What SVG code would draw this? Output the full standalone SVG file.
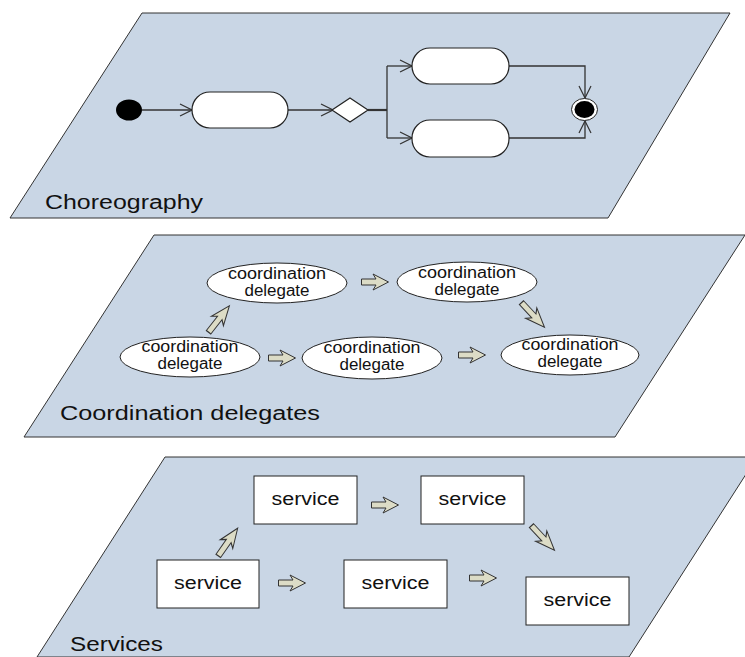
<svg xmlns="http://www.w3.org/2000/svg" width="745" height="657" viewBox="0 0 745 657">
<defs>
<style>
.plane{fill:#c9d6e5;stroke:#333;stroke-width:1}
.act{fill:#fff;stroke:#222;stroke-width:1.2}
.ell{fill:#fff;stroke:#222;stroke-width:1}
.box{fill:#fff;stroke:#222;stroke-width:1}
.ln{fill:none;stroke:#333;stroke-width:1.3}
.lbl{font-family:"Liberation Sans",Arial,sans-serif;font-size:20px;fill:#111}
.t{font-family:"Liberation Sans",Arial,sans-serif;font-size:16px;fill:#111;text-anchor:middle}
.ts{font-family:"Liberation Sans",Arial,sans-serif;font-size:18px;fill:#111;text-anchor:middle}
.ba{fill:#dcdcc6;stroke:#333;stroke-width:1}
</style>
<marker id="open" viewBox="0 0 14 14" refX="13" refY="7" markerWidth="14" markerHeight="14" markerUnits="userSpaceOnUse" orient="auto">
<path d="M1,1 L13,7 L1,13" fill="none" stroke="#333" stroke-width="1.2"/>
</marker>
<path id="barrow" d="M-13.5,-3 L1,-3 L-2,-8 L13.5,0 L-2,8 L1,3 L-13.5,3 Z"/>
</defs>

<g id="plane-choreography">
<polygon class="plane" points="142,13 730,13 608,218 10,218"/>
<text class="lbl" x="45" y="209" textLength="158" lengthAdjust="spacingAndGlyphs">Choreography</text>
</g>
<g id="plane-coordination">
<polygon class="plane" points="154,235 745,235 615,437 24,437"/>
<text class="lbl" x="60" y="420" textLength="260" lengthAdjust="spacingAndGlyphs">Coordination delegates</text>
</g>
<g id="plane-services">
<polygon class="plane" points="165,457 757,457 629,657 37,657"/>
<text class="lbl" x="70" y="651" textLength="93" lengthAdjust="spacingAndGlyphs">Services</text>
</g>

<g id="connectors">
<line class="ln" x1="142" y1="110" x2="192" y2="110" marker-end="url(#open)"/>
<line class="ln" x1="288" y1="110" x2="333" y2="110" marker-end="url(#open)"/>
<line class="ln" x1="368" y1="110" x2="387" y2="110" style="stroke-width:2.2"/>
<line class="ln" x1="387" y1="66" x2="387" y2="138"/>
<line class="ln" x1="387" y1="66" x2="412" y2="66" marker-end="url(#open)"/>
<line class="ln" x1="387" y1="138" x2="412" y2="138" marker-end="url(#open)"/>
<polyline class="ln" points="509,66 585,66 585,98" marker-end="url(#open)"/>
<polyline class="ln" points="509,138 585,138 585,121" marker-end="url(#open)"/>

<use href="#barrow" class="ba" transform="translate(375,282)"/>
<use href="#barrow" class="ba" transform="translate(282,358)"/>
<use href="#barrow" class="ba" transform="translate(472,355)"/>
<use href="#barrow" class="ba" transform="translate(219,319) rotate(-52) scale(1.25,0.95)"/>
<use href="#barrow" class="ba" transform="translate(533,315) rotate(47) scale(1.25,0.95)"/>

<use href="#barrow" class="ba" transform="translate(385,505)"/>
<use href="#barrow" class="ba" transform="translate(292,583)"/>
<use href="#barrow" class="ba" transform="translate(483,578)"/>
<use href="#barrow" class="ba" transform="translate(228,542) rotate(-55) scale(1.25,0.95)"/>
<use href="#barrow" class="ba" transform="translate(543,538) rotate(47) scale(1.25,0.95)"/>
</g>

<g id="initial"><ellipse cx="129" cy="110" rx="13" ry="10.5" fill="#000"/></g>
<g id="action1"><rect class="act" x="192" y="92" width="96" height="36" rx="18" ry="18"/></g>
<g id="decision"><polygon points="350,98 368,110 350,122 332,110" fill="#fff" stroke="#222" stroke-width="1.2"/></g>
<g id="action2"><rect class="act" x="412" y="48" width="97" height="36" rx="18" ry="18"/></g>
<g id="action3"><rect class="act" x="412" y="120" width="97" height="37" rx="18" ry="18"/></g>
<g id="final">
<ellipse cx="584.5" cy="109.5" rx="13" ry="11" fill="#fff" stroke="#222" stroke-width="1"/>
<ellipse cx="584.5" cy="109.5" rx="10" ry="8.5" fill="#000"/>
</g>

<g id="cd1"><ellipse class="ell" cx="277" cy="283" rx="70" ry="20"/>
<text class="t" x="277" y="279" textLength="98" lengthAdjust="spacingAndGlyphs">coordination</text>
<text class="t" x="277" y="296" textLength="65" lengthAdjust="spacingAndGlyphs">delegate</text></g>
<g id="cd2"><ellipse class="ell" cx="467" cy="282" rx="70" ry="20"/>
<text class="t" x="467" y="278" textLength="98" lengthAdjust="spacingAndGlyphs">coordination</text>
<text class="t" x="467" y="295" textLength="65" lengthAdjust="spacingAndGlyphs">delegate</text></g>
<g id="cd3"><ellipse class="ell" cx="190" cy="357" rx="70" ry="20"/>
<text class="t" x="190" y="352" textLength="97" lengthAdjust="spacingAndGlyphs">coordination</text>
<text class="t" x="190" y="369" textLength="65" lengthAdjust="spacingAndGlyphs">delegate</text></g>
<g id="cd4"><ellipse class="ell" cx="372" cy="358" rx="70" ry="21"/>
<text class="t" x="372" y="353" textLength="97" lengthAdjust="spacingAndGlyphs">coordination</text>
<text class="t" x="372" y="370" textLength="65" lengthAdjust="spacingAndGlyphs">delegate</text></g>
<g id="cd5"><ellipse class="ell" cx="570" cy="355" rx="69" ry="20"/>
<text class="t" x="570" y="350" textLength="97" lengthAdjust="spacingAndGlyphs">coordination</text>
<text class="t" x="570" y="367" textLength="65" lengthAdjust="spacingAndGlyphs">delegate</text></g>

<g id="svc1"><rect class="box" x="157" y="560" width="102" height="48"/><text class="ts" x="208" y="589" textLength="68" lengthAdjust="spacingAndGlyphs">service</text></g>
<g id="svc2"><rect class="box" x="254" y="476" width="103" height="48"/><text class="ts" x="305.5" y="505" textLength="68" lengthAdjust="spacingAndGlyphs">service</text></g>
<g id="svc3"><rect class="box" x="344" y="560" width="103" height="48"/><text class="ts" x="395.5" y="589" textLength="68" lengthAdjust="spacingAndGlyphs">service</text></g>
<g id="svc4"><rect class="box" x="421" y="476" width="103" height="48"/><text class="ts" x="472.5" y="505" textLength="68" lengthAdjust="spacingAndGlyphs">service</text></g>
<g id="svc5"><rect class="box" x="526" y="577" width="103" height="48"/><text class="ts" x="577.5" y="606" textLength="68" lengthAdjust="spacingAndGlyphs">service</text></g>
</svg>
